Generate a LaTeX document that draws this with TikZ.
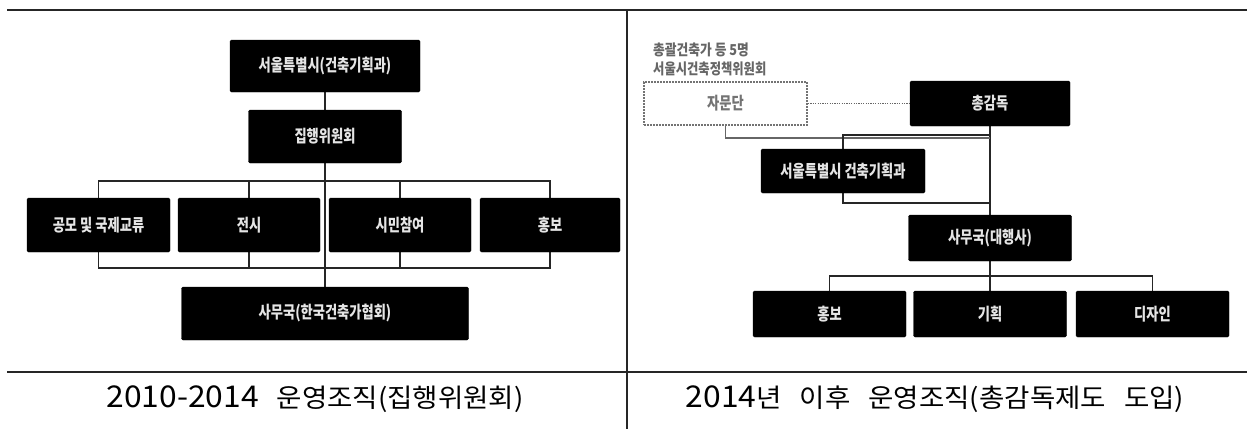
\documentclass[tikz,border=0pt]{standalone}
\usepackage{fontspec}
\setmainfont{Noto Sans CJK KR}
\usepackage{graphicx}
\usetikzlibrary{backgrounds}
\newcommand{\bxt}[1]{\scalebox{0.78}[1]{#1}}
\tikzset{
  blk/.style={fill=black, draw=black, rounded corners=1.5pt, inner sep=0pt,
    text=white!90!black, font=\fontsize{17}{17}\selectfont\bfseries},
  dotbox/.style={draw=black!55, line width=1.8pt, dash pattern=on 1.6pt off 1.4pt,
    inner sep=0pt, text=black!55, font=\fontsize{17}{17}\selectfont\bfseries},
  conn/.style={draw=black!85, line width=1.2pt},
  gconn/.style={draw=black!60, line width=1.2pt},
  frame/.style={draw=black!85, line width=1.3pt},
  ttl/.style={inner sep=0pt, text=black},
  hdr/.style={inner sep=0pt, anchor=west, text=black!60, font=\fontsize{15}{15}\selectfont\bfseries},
}
\newcommand{\dg}[1]{{\fontsize{30}{30}\selectfont #1}}
\newcommand{\kr}[1]{{\fontsize{26}{30}\selectfont #1}}
\begin{document}
\begin{tikzpicture}[x=1pt, y=-1pt]
\useasboundingbox (0,0) rectangle (1247,429);
% frame
\coordinate (f1) at (7,10);
\coordinate (f2) at (1247,10);
\coordinate (f3) at (627,10);
\coordinate (f4) at (627,429);
\coordinate (f5) at (7,372);
\coordinate (f6) at (1247,372);
\draw[frame] (f1) -- (f2);
\draw[frame] (f3) -- (f4);
\draw[frame] (f5) -- (f6);

% ---------------- left panel
\node[blk, minimum width=190pt, minimum height=52pt] (L1) at (325,66) {\bxt{서울특별시(건축기획과)}};
\node[blk, minimum width=153pt, minimum height=53pt] (L2) at (325,136.5) {\bxt{집행위원회}};
\node[blk, minimum width=143pt, minimum height=54pt] (A) at (98.5,225) {\bxt{공모 및 국제교류}};
\node[blk, minimum width=142pt, minimum height=54pt] (B) at (249,225) {\bxt{전시}};
\node[blk, minimum width=142pt, minimum height=54pt] (C) at (400,225) {\bxt{시민참여}};
\node[blk, minimum width=140pt, minimum height=54pt] (D) at (550,225) {\bxt{홍보}};
\node[blk, minimum width=287pt, minimum height=53pt] (L3) at (325,313.5) {\bxt{사무국(한국건축가협회)}};
\coordinate (tb) at (325,181);
\coordinate (bb) at (325,268);

% ---------------- right panel
\node[hdr] (h1) at (653,50) {\scalebox{0.85}[1]{총괄건축가 등 5명}};
\node[hdr] (h2) at (653,69) {\scalebox{0.82}[1]{서울시건축정책위원회}};
\node[dotbox, minimum width=163pt, minimum height=43pt] (J) at (725.5,103.5) {\bxt{자문단}};
\node[blk, minimum width=160pt, minimum height=45pt] (T) at (990,103.5) {\bxt{총감독}};
\node[blk, minimum width=164pt, minimum height=44pt] (S) at (843,171) {\bxt{서울특별시 건축기획과}};
\node[blk, minimum width=163pt, minimum height=46pt] (O) at (990,238) {\bxt{사무국(대행사)}};
\node[blk, minimum width=153pt, minimum height=46pt] (P1) at (829.5,314) {\bxt{홍보}};
\node[blk, minimum width=153pt, minimum height=46pt] (P2) at (990,314) {\bxt{기획}};
\node[blk, minimum width=153pt, minimum height=46pt] (P3) at (1152.5,314) {\bxt{디자인}};
\coordinate (jc) at (990,138);
\coordinate (bt1) at (990,135);
\coordinate (bt2) at (990,203);
\coordinate (rb) at (990,276);

% titles
\node[ttl] (t1) at (315,399) {\scalebox{1.06}[1]{\dg{2010-2014}\hspace{17pt}\kr{운영조직(집행위원회)}}};
\node[ttl] (t2) at (935,399) {\scalebox{1.06}[1]{\dg{2014}\kr{년}\hspace{17pt}\kr{이후}\hspace{17pt}\kr{운영조직(총감독제도}\hspace{17pt}\kr{도입)}}};

\begin{scope}[on background layer]
% left connectors
\draw[conn] (L1.south) -- (L2.north);
\draw[conn] (L2.south) -- (L3.north);
\draw[conn] (A.north) |- (tb) -| (D.north);
\draw[conn] (B.north) -- (B.north |- tb);
\draw[conn] (C.north) -- (C.north |- tb);
\draw[conn] (A.south) |- (bb) -| (D.south);
\draw[conn] (B.south) -- (B.south |- bb);
\draw[conn] (C.south) -- (C.south |- bb);
% right connectors
\draw[gconn, line width=1.6pt, dash pattern=on 1.2pt off 1.2pt] (J.east) -- (T.west);
\draw[conn] (T.south) -- (O.north);
\draw[gconn] (J.south) |- (jc);
\draw[conn] (bt1) -| (S.center) |- (bt2);
\draw[conn] (O.south) -- (P2.north);
\draw[conn] (P1.north) |- (rb) -| (P3.north);
\end{scope}
\end{tikzpicture}
\end{document}
